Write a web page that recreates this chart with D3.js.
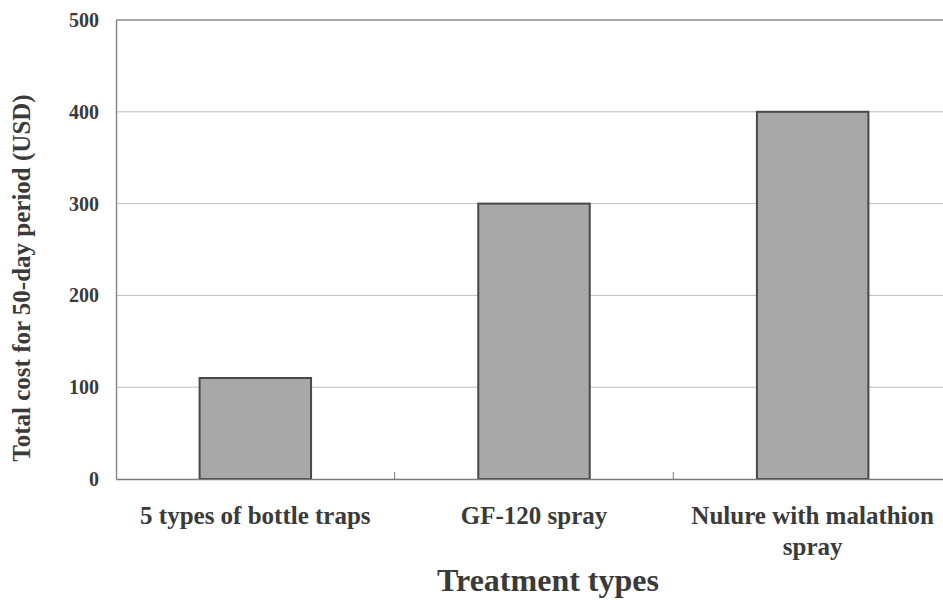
<!DOCTYPE html>
<html>
<head>
<meta charset="utf-8">
<script src="https://cdn.jsdelivr.net/npm/d3@7/dist/d3.min.js"></script>
<style>
  html, body { margin: 0; padding: 0; background: #fff; }
  svg { display: block; }
  text { font-family: "Liberation Serif", "Times New Roman", serif; font-weight: bold; fill: #3a3a3a; }
</style>
</head>
<body>
<svg id="chart" width="943" height="600"></svg>
<script>
const categories = ["5 types of bottle traps", "GF-120 spray", "Nulure with malathion spray"];
const costs = [110, 300, 400];
const yTicks = [0, 100, 200, 300, 400, 500];
const xTitle = "Treatment types";
const yTitle = "Total cost for 50-day period (USD)";

(function () {
const svg = d3.select("#chart");
const W = 943, H = 600;
const mLeft = 116, mRight = 952, mTop = 20, mBottom = 479;

const x = d3.scaleBand().domain(categories).range([mLeft, mRight]).paddingInner(0.6).paddingOuter(0.3);
const y = d3.scaleLinear().domain([0, 500]).range([mBottom, mTop]);

const g = svg.append("g");

// gridlines
g.selectAll("line.grid").data(yTicks.filter(d => d > 0)).join("line")
  .attr("class", "grid")
  .attr("x1", mLeft).attr("x2", W)
  .attr("y1", d => y(d)).attr("y2", d => y(d))
  .attr("stroke", d => d === 500 ? "#8a8a8a" : "#bdbdbd")
  .attr("stroke-width", d => d === 500 ? 1.5 : 1);

// bars
g.selectAll("rect.bar").data(categories).join("rect")
  .attr("class", "bar")
  .attr("x", d => x(d))
  .attr("width", x.bandwidth())
  .attr("y", (d, i) => y(costs[i]))
  .attr("height", (d, i) => y(0) - y(costs[i]))
  .attr("fill", "#a8a8a8")
  .attr("stroke", "#484848")
  .attr("stroke-width", 2);

// y axis
const yAxis = d3.axisLeft(y).tickValues(yTicks).tickSize(0).tickPadding(17);
const ya = svg.append("g").attr("transform", `translate(${mLeft},0)`).call(yAxis);
ya.select(".domain").attr("stroke", "#8a8a8a").attr("stroke-width", 1.5);
ya.selectAll("text").style("font-size", "20px").attr("fill", "#3a3a3a")
  .style("font-family", '"Liberation Serif", serif').style("font-weight", "bold");

// x axis
const step = x.step();
const xAxis = d3.axisBottom(x).tickSize(0).tickFormat("");
const xa = svg.append("g").attr("transform", `translate(0,${mBottom})`).call(xAxis);
xa.select(".domain").attr("stroke", "#7a7a7a").attr("stroke-width", 1.5);
xa.selectAll(".tick").remove();
const bounds = d3.range(1, categories.length).map(i => mLeft + i * step);
xa.selectAll("line.ctick").data(bounds).join("line")
  .attr("class", "ctick")
  .attr("x1", d => d).attr("x2", d => d)
  .attr("y1", 0).attr("y2", -7)
  .attr("stroke", "#7a7a7a").attr("stroke-width", 1);

// category labels with wrapping
const labels = svg.append("g");
categories.forEach((c, i) => {
  const cx = x(c) + x.bandwidth() / 2;
  const t = labels.append("text")
    .attr("x", cx).attr("y", 524)
    .attr("text-anchor", "middle")
    .style("font-size", "25px");
  const words = c.split(" ");
  let line = [];
  let tspan = t.append("tspan").attr("x", cx).attr("dy", 0);
  words.forEach(w => {
    line.push(w);
    tspan.text(line.join(" "));
    if (tspan.node().getComputedTextLength() > 250 && line.length > 1) {
      line.pop();
      tspan.text(line.join(" "));
      line = [w];
      tspan = t.append("tspan").attr("x", cx).attr("dy", 31).text(w);
    }
  });
});

// axis titles
svg.append("text")
  .attr("x", 548).attr("y", 591)
  .attr("text-anchor", "middle")
  .style("font-size", "32px")
  .text(xTitle);

svg.append("text")
  .attr("transform", "translate(30,278) rotate(-90)")
  .attr("text-anchor", "middle")
  .style("font-size", "25px")
  .text(yTitle);
})();
</script>
</body>
</html>
